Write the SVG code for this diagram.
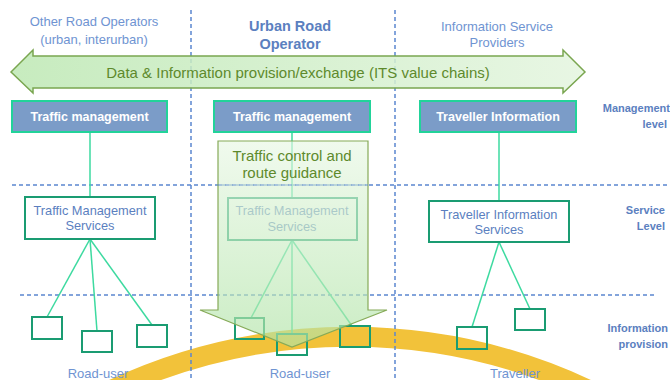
<svg xmlns="http://www.w3.org/2000/svg" width="670" height="380" viewBox="0 0 670 380">
<defs>
<linearGradient id="gh" x1="0" y1="0" x2="1" y2="0">
<stop offset="0" stop-color="#bde8b3"/>
<stop offset="1" stop-color="#e4f5df"/>
</linearGradient>
<linearGradient id="gv" x1="0" y1="0" x2="0" y2="1">
<stop offset="0" stop-color="#e8f7e4"/>
<stop offset="1" stop-color="#afe3a5"/>
</linearGradient>
<style>
text{font-family:"Liberation Sans",Arial,sans-serif;}
.grid{stroke:#5b87d0;stroke-width:1.5;stroke-dasharray:4 3;fill:none;}
.mg{fill:#7b9cc8;stroke:#22d39a;stroke-width:2;}
.mgt{fill:#ffffff;font-size:12.5px;font-weight:bold;text-anchor:middle;}
.sv{fill:#ffffff;stroke:#1a9c72;stroke-width:2;}
.svt{fill:#5b7fbf;font-size:12.8px;text-anchor:middle;}
.sm{fill:none;stroke:#1a9c72;stroke-width:2;}
.cn{stroke:#3ddaa0;stroke-width:1.5;fill:none;}
.hd{fill:#6f94d2;font-size:13px;text-anchor:middle;}
.hdb{fill:#5b80c0;font-size:14.5px;font-weight:bold;text-anchor:middle;}
.lv{fill:#5b80c0;font-size:11px;font-weight:bold;text-anchor:end;}
.gt{fill:#5e8a2c;font-size:15px;text-anchor:middle;}
.bt{fill:#6f94d2;font-size:13px;text-anchor:middle;}
</style>
</defs>
<rect width="670" height="380" fill="#ffffff"/>

<!-- road arc -->
<path id="road" d="M 95 398 A 562 562 0 0 1 605 398" fill="none" stroke="#f2c23a" stroke-width="20"/>

<!-- grid -->
<g id="grid">
<line class="grid" x1="191" y1="10" x2="191" y2="380"/>
<line class="grid" x1="395" y1="10" x2="395" y2="380"/>
<line class="grid" x1="12" y1="185" x2="668" y2="185"/>
<line class="grid" x1="20" y1="295" x2="655" y2="295"/>
</g>

<!-- horizontal data exchange arrow -->
<g id="exchange">
<path d="M 11 72 L 33 50 L 33 56 L 563 56 L 563 50 L 585 72 L 563 93 L 563 88 L 33 88 L 33 93 Z" fill="url(#gh)" fill-opacity="0.85" stroke="#7aa650" stroke-width="1.5"/>
<text class="gt" x="298" y="78">Data &amp; Information provision/exchange (ITS value chains)</text>
</g>

<!-- header texts -->
<g id="headers">
<text class="hd" x="94" y="26">Other Road Operators</text>
<text class="hd" x="94" y="44">(urban, interurban)</text>
<text class="hdb" x="290" y="31">Urban Road</text>
<text class="hdb" x="290" y="49">Operator</text>
<text class="hd" x="497" y="31">Information Service</text>
<text class="hd" x="497" y="47">Providers</text>
</g>

<!-- connectors -->
<g id="connectors">
<line class="cn" x1="90" y1="132" x2="90" y2="197"/>
<line class="cn" x1="90" y1="239" x2="47" y2="317"/>
<line class="cn" x1="90" y1="239" x2="97" y2="331"/>
<line class="cn" x1="90" y1="239" x2="152" y2="325"/>
<line class="cn" x1="292" y1="132" x2="292" y2="198"/>
<line class="cn" x1="292" y1="240" x2="251" y2="318"/>
<line class="cn" x1="292" y1="240" x2="292" y2="334"/>
<line class="cn" x1="292" y1="240" x2="352" y2="326"/>
<line class="cn" x1="499" y1="132" x2="499" y2="201"/>
<line class="cn" x1="499" y1="242" x2="472" y2="327"/>
<line class="cn" x1="499" y1="242" x2="530" y2="309"/>
</g>

<!-- management level -->
<g id="tm-left"><rect class="mg" x="12" y="101" width="155" height="31"/><text class="mgt" x="89.5" y="121">Traffic management</text></g>
<g id="tm-mid"><rect class="mg" x="214" y="101" width="156" height="31"/><text class="mgt" x="292" y="121">Traffic management</text></g>
<g id="ti-right"><rect class="mg" x="420" y="101" width="156" height="31"/><text class="mgt" x="498" y="121">Traveller Information</text></g>

<!-- service level -->
<g id="tms-left"><rect class="sv" x="25" y="197" width="130" height="42"/><text class="svt" x="90" y="215">Traffic Management</text><text class="svt" x="90" y="230">Services</text></g>
<g id="tms-mid"><rect class="sv" x="228" y="198" width="129" height="42"/><text class="svt" x="292" y="215">Traffic Management</text><text class="svt" x="292" y="231">Services</text></g>
<g id="tis-right"><rect class="sv" x="429" y="201" width="140" height="41"/><text class="svt" x="499" y="219">Traveller Information</text><text class="svt" x="499" y="234">Services</text></g>

<!-- information provision devices -->
<g id="dev-l1"><rect class="sm" x="32" y="317" width="30" height="22"/></g>
<g id="dev-l2"><rect class="sm" x="82" y="331" width="30" height="21"/></g>
<g id="dev-l3"><rect class="sm" x="137" y="325" width="30" height="22"/></g>
<g id="dev-m1"><rect class="sm" x="235" y="318" width="29" height="21"/></g>
<g id="dev-m2"><rect class="sm" x="277" y="334" width="30" height="21"/></g>
<g id="dev-m3"><rect class="sm" x="340" y="326" width="30" height="21"/></g>
<g id="dev-r1"><rect class="sm" x="457" y="327" width="30" height="22"/></g>
<g id="dev-r2"><rect class="sm" x="515" y="309" width="30" height="21"/></g>

<!-- traffic control down arrow -->
<g id="control">
<path d="M 218 141 L 368 141 L 368 310 L 387 310 L 292 347 L 200 310 L 218 310 Z" fill="url(#gv)" fill-opacity="0.65" stroke="#86aa58" stroke-width="1.2"/>
<text class="gt" x="292" y="161">Traffic control and</text>
<text class="gt" x="292" y="178">route guidance</text>
</g>

<!-- grid line over arrow -->
<line class="grid" x1="218" y1="185" x2="368" y2="185" stroke-opacity="0.6"/>

<!-- bottom labels -->
<g id="users">
<text class="bt" x="98" y="378">Road-user</text>
<text class="bt" x="300" y="378">Road-user</text>
<text class="bt" x="515" y="378">Traveller</text>
</g>

<!-- level labels -->
<g id="levels">
<text class="lv" x="670" y="112">Management</text>
<text class="lv" x="667" y="128">level</text>
<text class="lv" x="665" y="214">Service</text>
<text class="lv" x="665" y="230">Level</text>
<text class="lv" x="668" y="332">Information</text>
<text class="lv" x="668" y="348">provision</text>
</g>
</svg>
